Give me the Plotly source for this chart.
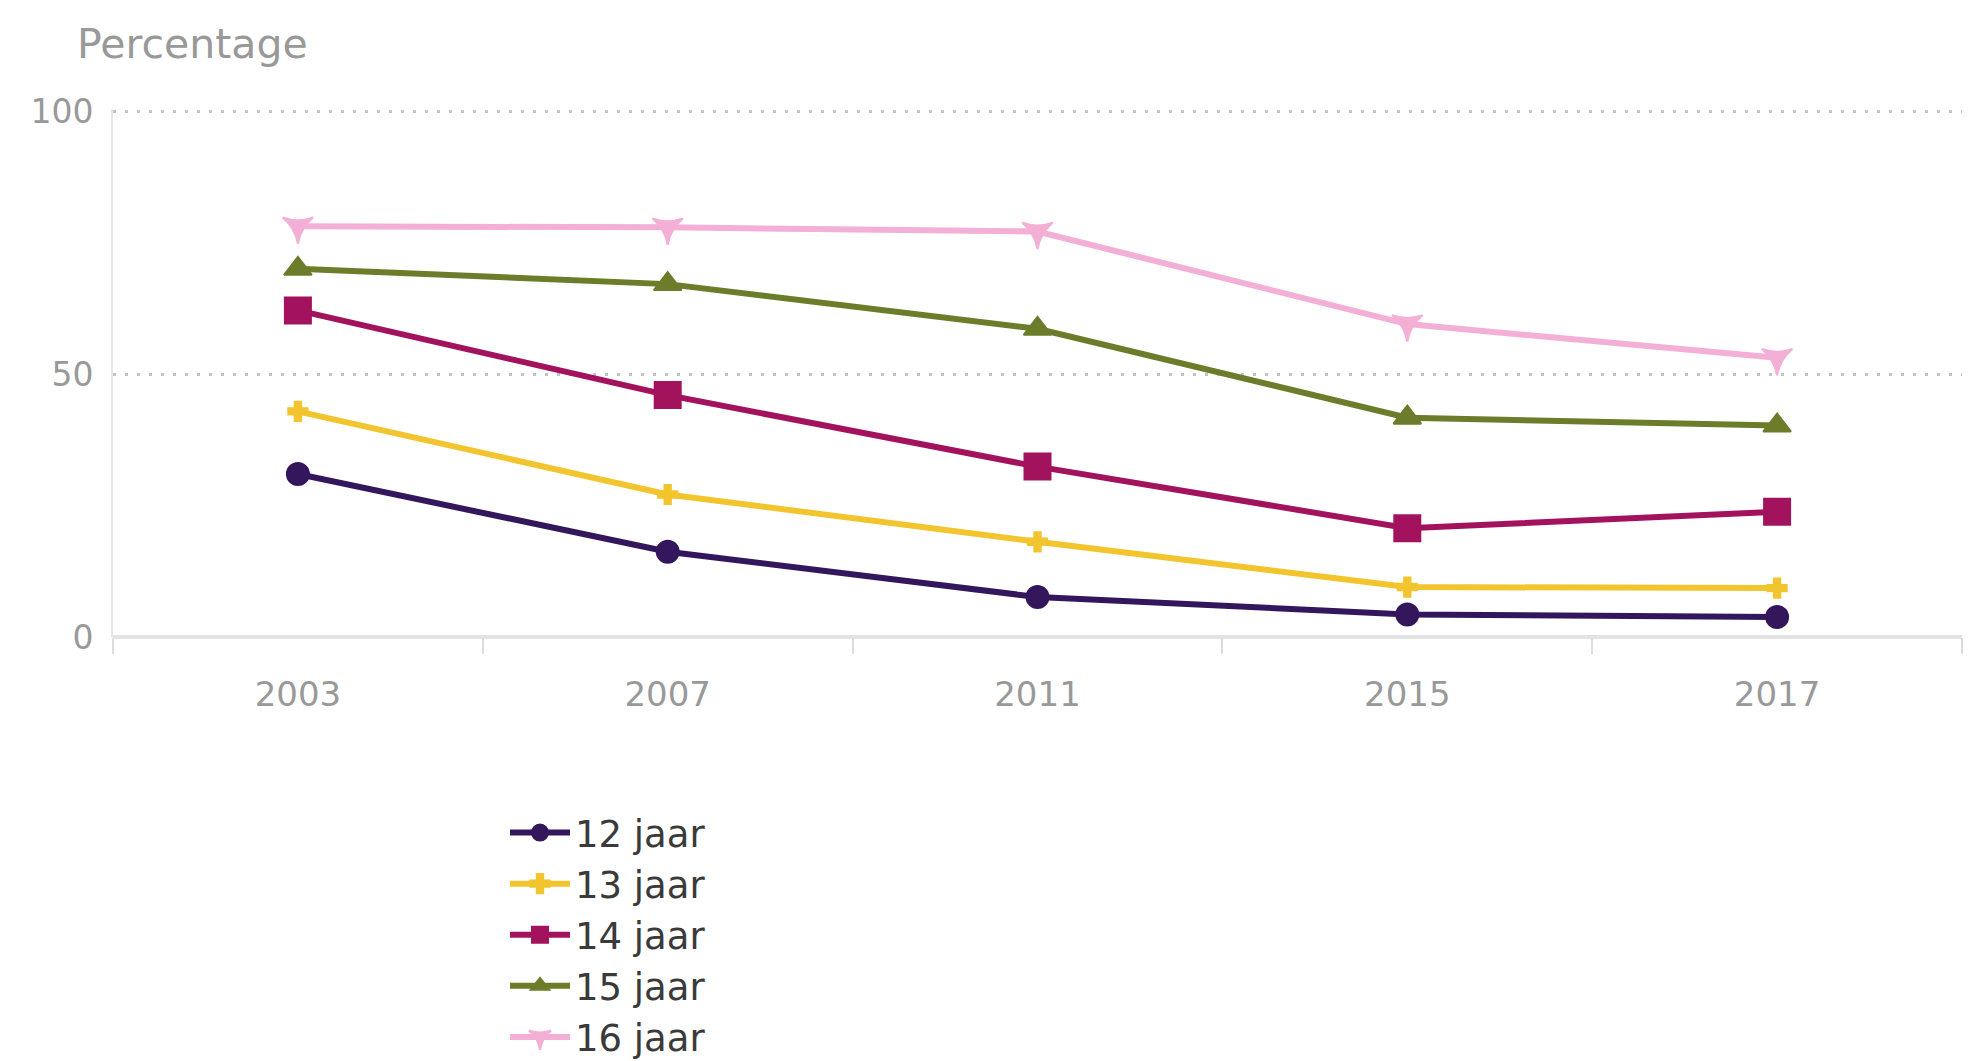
import plotly.graph_objects as go

years = ["2003", "2007", "2011", "2015", "2017"]
series_names = ["12 jaar", "13 jaar", "14 jaar", "15 jaar", "16 jaar"]
v12 = [31.0, 16.2, 7.6, 4.3, 3.8]
v13 = [42.9, 27.1, 18.1, 9.5, 9.3]
v14 = [62.1, 46.0, 32.4, 20.7, 23.8]
v15 = [70.0, 67.1, 58.6, 41.7, 40.2]
v16 = [78.1, 77.9, 77.1, 59.5, 53.1]
y_ticks = [0, 50, 100]

colors = ["#33165c", "#f2c52e", "#a3135d", "#6b7d2a", "#f3afd6"]
symbols = ["circle", "cross", "square", "triangle-up", "star-triangle-down"]
sizes = [22, 16, 26, 24, 22]

W, H = 1968, 1061
ML, MR, MT, MB = 113, 6, 109, 424
PW, PH = W - ML - MR, H - MT - MB

fig = go.Figure()
for name, vals, c, s, sz in zip(series_names, [v12, v13, v14, v15, v16], colors, symbols, sizes):
    fig.add_trace(go.Scatter(
        x=years, y=vals, name=name, mode="lines+markers",
        line=dict(color=c, width=6),
        marker=dict(symbol=s, size=sz, color=c, line=dict(color=c, width=2)),
    ))

fig.update_layout(
    width=W, height=H,
    margin=dict(l=ML, r=MR, t=MT, b=MB, autoexpand=False),
    plot_bgcolor="white", paper_bgcolor="white",
    font=dict(family="DejaVu Sans", color="#999999", size=30),
    showlegend=True,
    legend=dict(
        xref="container", yref="container",
        x=505 / W, y=1 - 802 / H, xanchor="left", yanchor="top",
        font=dict(size=37, color="#3a3a3a"),
        bgcolor="rgba(0,0,0,0)", tracegroupgap=0, itemwidth=60,
    ),
    annotations=[dict(
        text="Percentage", xref="paper", yref="paper",
        x=(75 - ML) / PW, y=(H - 44 - MB) / PH, xanchor="left", yanchor="middle",
        showarrow=False, font=dict(size=41, color="#999999"),
    )],
)

fig.update_xaxes(
    type="category", range=[-0.5, 4.5], tickson="boundaries",
    ticks="outside", ticklen=16, tickcolor="#dcdcdc", tickwidth=2,
    showgrid=False, showline=False, zeroline=False,
    ticklabelstandoff=34,
    tickfont=dict(size=34, color="#999999"),
)
fig.update_yaxes(
    range=[0, 100.4], tickvals=y_ticks, ticktext=[str(t) for t in y_ticks],
    showgrid=True, gridcolor="#c4c4c4", griddash="3px,9px", gridwidth=3,
    zeroline=True, zerolinecolor="#e3e3e3", zerolinewidth=4,
    showline=True, linecolor="#e6e6e6", linewidth=2,
    ticks="", ticklabelstandoff=11, tickfont=dict(size=33, color="#999999"),
)

fig.write_html(
    "out.html",
    config={"displayModeBar": False},
    post_script="document.body.style.margin='0';document.body.style.overflow='hidden';",
)
